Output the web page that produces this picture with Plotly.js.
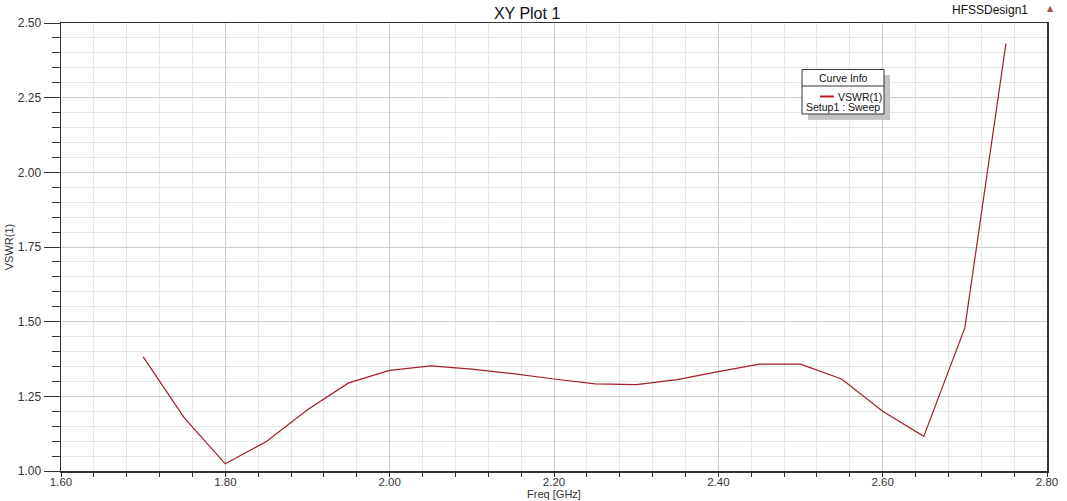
<!DOCTYPE html>
<html>
<head>
<meta charset="utf-8">
<script src="https://cdn.plot.ly/plotly-3.0.1.min.js"></script>
<style>html,body{margin:0;padding:0;background:#fff;}#chart{width:1067px;height:501px;}</style>
</head>
<body>
<div id="chart"></div>
<script>
var freqGHz = [1.70, 1.75, 1.80, 1.85, 1.90, 1.95, 2.00, 2.05, 2.10, 2.15, 2.20, 2.25, 2.30, 2.35, 2.40, 2.45, 2.50, 2.55, 2.60, 2.65, 2.70, 2.75];
var vswr = [1.382, 1.178, 1.024, 1.099, 1.205, 1.295, 1.337, 1.352, 1.341, 1.326, 1.308, 1.292, 1.289, 1.306, 1.333, 1.358, 1.358, 1.308, 1.200, 1.116, 1.479, 2.431];
var xTickVals = [1.60, 1.80, 2.00, 2.20, 2.40, 2.60, 2.80];
var xTickText = ["1.60", "1.80", "2.00", "2.20", "2.40", "2.60", "2.80"];
var yTickVals = [1.00, 1.25, 1.50, 1.75, 2.00, 2.25, 2.50];
var yTickText = ["1.00", "1.25", "1.50", "1.75", "2.00", "2.25", "2.50"];
var seriesName = "VSWR(1)";
var setupName = "Setup1 : Sweep";

var font = "Liberation Sans, Arial, sans-serif";
var lineColor = "rgb(165,30,40)";

var trace = {
  x: freqGHz, y: vswr, type: "scatter", mode: "lines", name: seriesName,
  line: {color: lineColor, width: 1.2}, showlegend: false, hoverinfo: "x+y"
};

var L = 61, R = 1047, T = 23, B = 471;
function px(x){ return (x - L) / (R - L); }
function py(y){ return (B - y) / (B - T); }

var layout = {
  width: 1067, height: 501,
  margin: {l: 61, r: 20, t: 23, b: 30},
  paper_bgcolor: "#ffffff", plot_bgcolor: "#ffffff",
  font: {family: font, size: 11, color: "#222"},
  title: {text: "XY Plot 1", x: 0.494, xanchor: "center", y: 0.985, yanchor: "top",
          font: {family: font, size: 16, color: "#111"}},
  xaxis: {
    range: [1.60, 2.80], tickmode: "array", tickvals: xTickVals, ticktext: xTickText,
    ticks: "outside", ticklen: 4, tickcolor: "#333", tickwidth: 1,
    ticklabelstandoff: -4,
    showline: true, linecolor: "#333", linewidth: 1.5, mirror: true,
    showgrid: true, gridcolor: "#cccccc", gridwidth: 1, zeroline: false,
    minor: {dtick: 0.04, tick0: 1.6, ticks: "outside", ticklen: 4, tickcolor: "#333", showgrid: true, gridcolor: "#e6e6e6", gridwidth: 1},
    tickfont: {family: font, size: 11.5, color: "#333"},
    title: {text: "Freq [GHz]", standoff: 1, font: {family: font, size: 11, color: "#333"}},
    fixedrange: true
  },
  yaxis: {
    range: [1.00, 2.50], tickmode: "array", tickvals: yTickVals, ticktext: yTickText,
    ticks: "outside", ticklen: 16, tickcolor: "#333", tickwidth: 1,
    showline: true, linecolor: "#333", linewidth: 1.5, mirror: true,
    showgrid: true, gridcolor: "#cccccc", gridwidth: 1, zeroline: false,
    minor: {dtick: 0.05, tick0: 1.0, ticks: "outside", ticklen: 8, tickcolor: "#333", showgrid: true, gridcolor: "#e6e6e6", gridwidth: 1},
    tickfont: {family: font, size: 12, color: "#333"},
    title: {text: "VSWR(1)", standoff: 2, font: {family: font, size: 11, color: "#333"}},
    fixedrange: true
  },
  shapes: [
    {type: "rect", xref: "paper", yref: "paper", x0: px(808), x1: px(890), y0: py(120), y1: py(75),
     fillcolor: "#c4c4c4", line: {width: 0}, layer: "above"},
    {type: "rect", xref: "paper", yref: "paper", x0: px(802), x1: px(884), y0: py(114), y1: py(69.5),
     fillcolor: "#ffffff", line: {color: "#333", width: 1}, layer: "above"},
    {type: "line", xref: "paper", yref: "paper", x0: px(802), x1: px(884), y0: py(86), y1: py(86),
     line: {color: "#333", width: 1}, layer: "above"},
    {type: "line", xref: "paper", yref: "paper", x0: px(820), x1: px(834), y0: py(96.5), y1: py(96.5),
     line: {color: "rgb(200,20,30)", width: 2}, layer: "above"}
  ],
  annotations: [
    {text: "Curve Info", xref: "paper", yref: "paper", x: px(843), y: py(78), xanchor: "center", yanchor: "middle",
     showarrow: false, font: {family: font, size: 10.5, color: "#111"}},
    {text: seriesName, xref: "paper", yref: "paper", x: px(836), y: py(96.5), xanchor: "left", yanchor: "middle",
     showarrow: false, font: {family: font, size: 10.5, color: "#111"}},
    {text: setupName, xref: "paper", yref: "paper", x: px(843), y: py(107.5), xanchor: "center", yanchor: "middle",
     showarrow: false, font: {family: font, size: 10.5, color: "#111"}},
    {text: "HFSSDesign1", xref: "paper", yref: "paper", x: px(1030), y: py(10), xanchor: "right", yanchor: "middle",
     showarrow: false, font: {family: font, size: 12, color: "#111"}},
    {text: "▲", xref: "paper", yref: "paper", x: px(1050), y: py(8), xanchor: "center", yanchor: "middle",
     showarrow: false, font: {family: "DejaVu Sans, sans-serif", size: 8, color: "rgb(170,80,60)"}}
  ]
};

Plotly.newPlot("chart", [trace], layout, {displayModeBar: false, staticPlot: true});
</script>
</body>
</html>
